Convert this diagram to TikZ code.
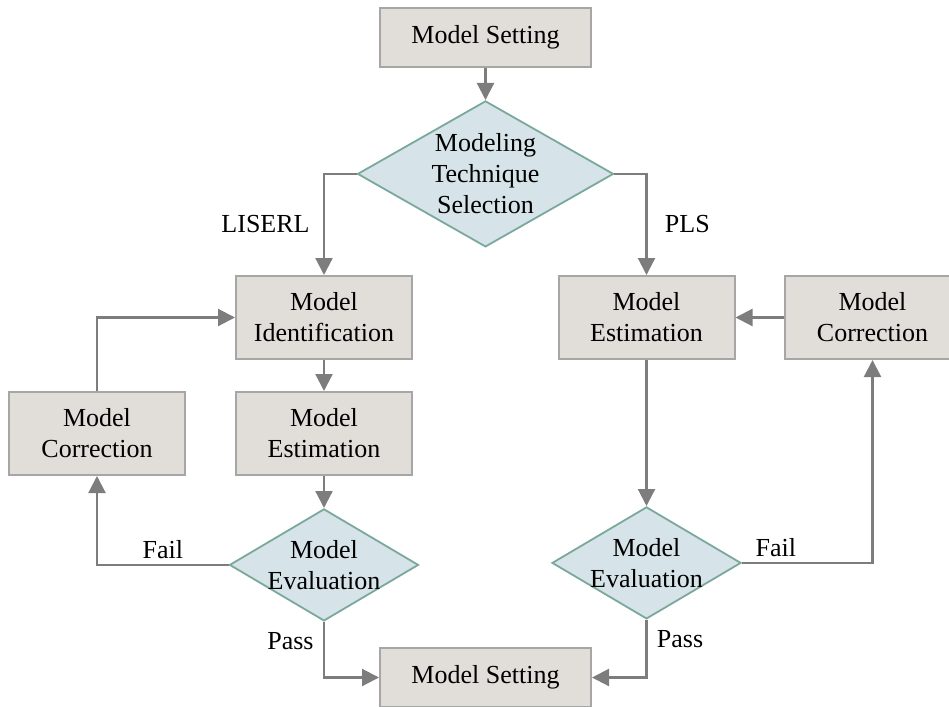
\documentclass[tikz,border=0pt]{standalone}
\usepackage{fontspec}
\setmainfont{Liberation Serif}
\usetikzlibrary{positioning,shapes.geometric,arrows.meta}

\definecolor{boxfill}{RGB}{225,221,217}
\definecolor{boxline}{RGB}{166,166,166}
\definecolor{decfill}{RGB}{214,227,232}
\definecolor{decline}{RGB}{122,168,156}
\definecolor{flowgray}{RGB}{125,125,125}

\begin{document}
\begin{tikzpicture}[x=1pt, y=-1pt, node distance=32pt and 48pt,
  every node/.style={align=center, font=\fontsize{26}{31}\selectfont},
  box/.style={rectangle, draw=boxline, line width=2pt, fill=boxfill, minimum width=176pt, minimum height=83pt, inner sep=4pt},
  decision/.style={diamond, draw=decline, line width=1.8pt, fill=decfill, inner sep=-40pt},
  flow/.style={-{Triangle[length=17pt,width=17pt]}, draw=flowgray, line width=2.2pt}]

\useasboundingbox (0,0) rectangle (949,706);

% Top of the flow
\node (settop) [box, minimum width=211pt, minimum height=59pt] at (485.5,37.5) {Model Setting};
\node (select) [decision, minimum width=256pt, minimum height=146pt, below=of settop] {Modeling\\ Technique\\ Selection};

% LISERL branch
\node (identL) [box] at (324,317.5) {Model\\ Identification};
\node (estL) [box, below=31pt of identL] {Model\\ Estimation};
\node (corrL) [box, left=49pt of estL] {Model\\ Correction};
\node (evalL) [decision, minimum width=189pt, minimum height=112pt, below=of estL] {Model\\ Evaluation};

% PLS branch
\node (estR) [box] at (646.5,317.5) {Model\\ Estimation};
\node (corrR) [box, right=of estR] {Model\\ Correction};
\node (evalR) [decision, minimum width=189pt, minimum height=112pt, below=146pt of estR] {Model\\ Evaluation};

% End of the flow
\node (setbot) [box, minimum width=211pt, minimum height=59pt] at (485.5,677.5) {Model Setting};

% Arrows
\draw[flow] (settop) -- (select);
\draw[flow] (select.west) -| node[pos=0.75, left=10pt] {LISERL} (identL);
\draw[flow] (select.east) -| node[pos=0.75, right=14pt] {PLS} (estR);
\draw[flow] (identL) -- (estL);
\draw[flow] (estL) -- (evalL);
\draw[flow] (evalL.west) -| node[pos=0.25, above=2pt] {Fail} (corrL);
\draw[flow] (corrL) |- (identL);
\draw[flow] (estR) -- (evalR);
\draw[flow] (evalR.east) -| node[pos=0.13, above=2pt] {Fail} (corrR);
\draw[flow] (corrR) -- (estR);
\draw[flow] (evalL) |- node[pos=0.17, left=6pt] {Pass} (setbot);
\draw[flow] (evalR) |- node[pos=0.17, right=6pt] {Pass} (setbot);

\end{tikzpicture}
\end{document}
